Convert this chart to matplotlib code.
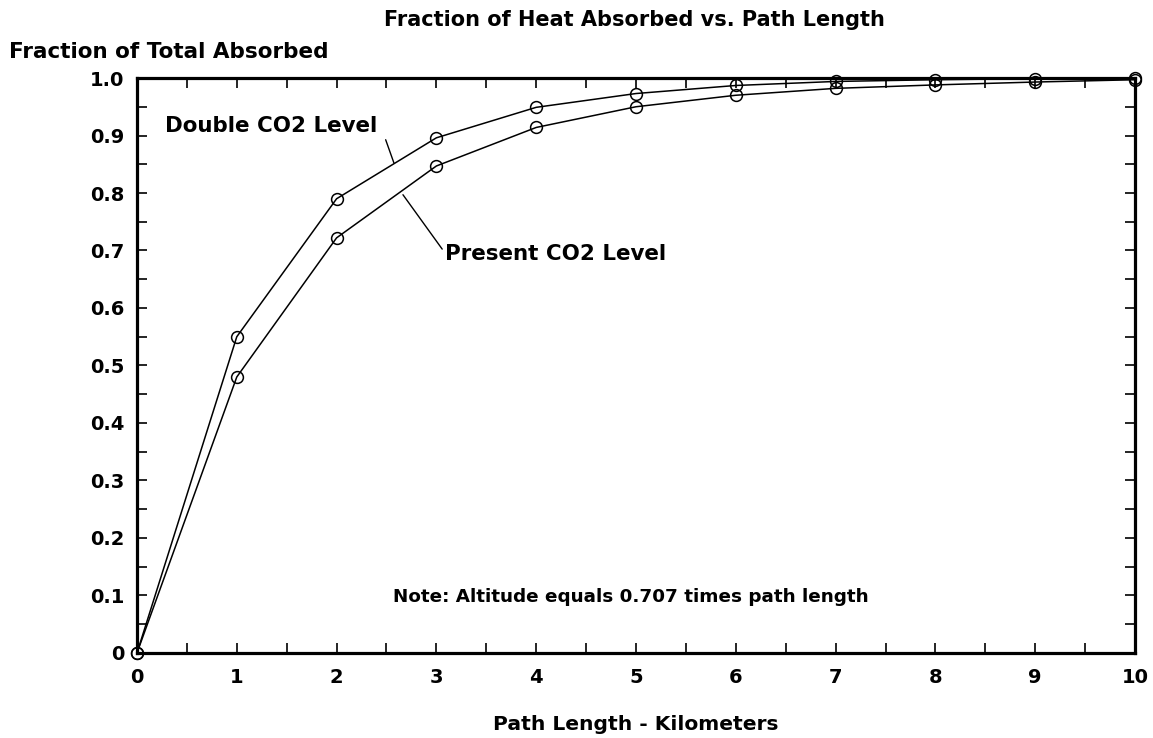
import numpy as np
import matplotlib.pyplot as plt
from matplotlib.ticker import MultipleLocator

plt.rcParams['font.family'] = ['DejaVu Sans']
plt.rcParams['font.weight'] = 'bold'

# Datos
path_km = [0, 1, 2, 3, 4, 5, 6, 7, 8, 9, 10]
double_co2 = [0, 0.55, 0.79, 0.896, 0.949, 0.973, 0.987, 0.994, 0.997, 0.999, 1.0]
present_co2 = [0, 0.48, 0.722, 0.847, 0.914, 0.95, 0.970, 0.982, 0.988, 0.993, 0.997]
y_ticks = [0, 0.1, 0.2, 0.3, 0.4, 0.5, 0.6, 0.7, 0.8, 0.9, 1.0]
y_tick_labels = ['0', '0.1', '0.2', '0.3', '0.4', '0.5', '0.6', '0.7', '0.8', '0.9', '1.0']

fig = plt.figure(figsize=(11.53, 7.38), dpi=100)
ax = fig.add_axes([0.1188, 0.1152, 0.8656, 0.7791])

for serie in (double_co2, present_co2):
    ax.plot(path_km, serie, color='black', lw=1.1, marker='o', ms=8.5,
            mfc='none', mec='black', mew=1.1, clip_on=False, zorder=3)

ax.set_xlim(0, 10)
ax.set_ylim(0, 1.0)
ax.set_xticks(path_km)
ax.set_xticklabels([str(v) for v in path_km])
ax.set_yticks(y_ticks)
ax.set_yticklabels(y_tick_labels)
ax.xaxis.set_minor_locator(MultipleLocator(0.5))
ax.yaxis.set_minor_locator(MultipleLocator(0.05))
ax.tick_params(which='both', direction='in', top=True, right=True,
               length=7.5, width=1.2, color='black')
ax.tick_params(axis='x', which='major', pad=11, labelsize=14)
ax.tick_params(axis='y', which='major', pad=9, labelsize=14)
for s in ax.spines.values():
    s.set_linewidth(2.3)

# Titulos
fig.text(0.550, 0.973, 'Fraction of Heat Absorbed vs. Path Length',
         ha='center', va='center', fontsize=15)
fig.text(0.008, 0.929, 'Fraction of Total Absorbed', ha='left', va='center',
         fontsize=15.5)
fig.text(0.551, 0.018, 'Path Length - Kilometers', ha='center', va='center',
         fontsize=14.6)

# Anotaciones
ax.annotate('Double CO2 Level', xy=(2.575, 0.852), xytext=(0.28, 0.917),
            fontsize=15.4, va='center', ha='left',
            arrowprops=dict(arrowstyle='-', color='black', lw=1,
                            shrinkA=0, shrinkB=0,
                            relpos=(1.04, -0.2)))
ax.annotate('Present CO2 Level', xy=(2.665, 0.797), xytext=(3.086, 0.694),
            fontsize=15.4, va='center', ha='left',
            arrowprops=dict(arrowstyle='-', color='black', lw=1,
                            shrinkA=0, shrinkB=0,
                            relpos=(0.0, 0.55)))
ax.text(2.565, 0.097, 'Note: Altitude equals 0.707 times path length',
        fontsize=13.2, va='center', ha='left')

fig.savefig('out.png', dpi=100)
